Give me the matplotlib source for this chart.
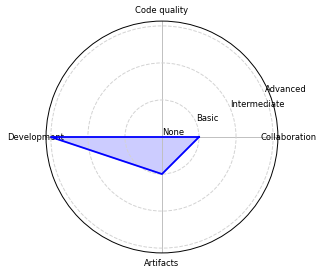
import matplotlib.pyplot as plt
import numpy as np

categories = ["Collaboration", "Code quality", "Development", "Artifacts"]
values = [1, 0, 3, 1]
levels = ["None", "Basic", "Intermediate", "Advanced"]

angles = np.linspace(0, 2 * np.pi, len(categories), endpoint=False)
closed_angles = np.append(angles, angles[0])
closed_values = np.append(values, values[0])

fig = plt.figure(figsize=(3.22, 2.75), dpi=100)
ax = fig.add_axes([0.143, 0.08, 0.72, 0.8436], projection="polar")

ax.plot(closed_angles, closed_values, color="blue", linewidth=1.3)
ax.fill(closed_angles, closed_values, color="blue", alpha=0.2)

ax.set_xticks(angles)
ax.set_xticklabels(categories, fontsize=6)
ax.tick_params(axis="x", pad=-3)
ax.set_yticks(range(len(levels)))
ax.set_yticklabels(levels, fontsize=6)
ax.set_ylim(0, 3.13)
ax.set_rlabel_position(22.5)

ax.yaxis.grid(True, linestyle="--", color="lightgray", linewidth=0.7)
ax.xaxis.grid(True, linestyle="-", color="silver", linewidth=0.7)
ax.spines["polar"].set_linewidth(0.7)

fig.savefig("out.png", dpi=100)
